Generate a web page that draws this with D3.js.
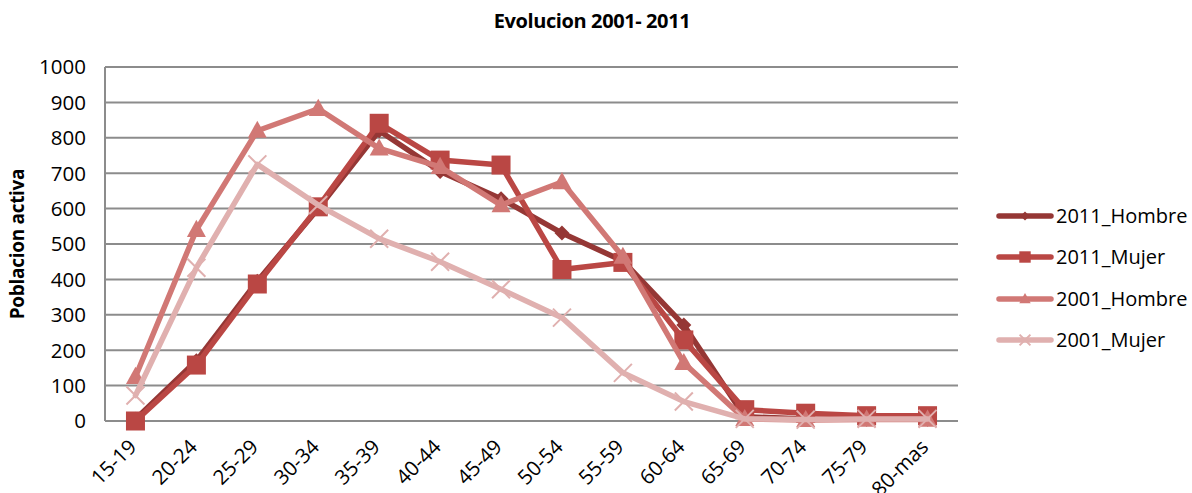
<!DOCTYPE html>
<html>
<head>
<meta charset="utf-8">
<script src="https://cdn.jsdelivr.net/npm/d3@7/dist/d3.min.js"></script>
<style>
  html, body { margin: 0; padding: 0; background: #fff; }
  svg { display: block; font-family: "Open Sans", Lato, sans-serif; }
</style>
</head>
<body>
<svg id="chart" width="1192" height="493"></svg>
<script>
const categories = ["15-19","20-24","25-29","30-34","35-39","40-44","45-49","50-54","55-59","60-64","65-69","70-74","75-79","80-mas"];
const hombre2011 = [5, 170, 395, 600, 820, 705, 628, 531, 452, 271, 12, 6, 5, 5];
const mujer2011  = [0, 158, 387, 605, 841, 737, 723, 428, 448, 229, 32, 22, 15, 15];
const hombre2001 = [125, 540, 820, 882, 770, 718, 610, 675, 464, 164, 6, 3, 4, 4];
const mujer2001  = [72, 433, 725, 610, 515, 450, 372, 292, 136, 55, 6, 4, 6, 6];
const yTicks = [0,100,200,300,400,500,600,700,800,900,1000];
const seriesNames = ["2011_Hombre","2011_Mujer","2001_Hombre","2001_Mujer"];

const series = [
  {name: seriesNames[0], values: hombre2011, color: "#953735", marker: "diamond"},
  {name: seriesNames[1], values: mujer2011,  color: "#BA4744", marker: "square"},
  {name: seriesNames[2], values: hombre2001, color: "#D17875", marker: "triangle"},
  {name: seriesNames[3], values: mujer2001,  color: "#E0B0AF", marker: "x"}
];

const svg = d3.select("#chart");
const pLeft = 105, pRight = 958, pTop = 67, pBottom = 421;

const x = d3.scaleBand().domain(categories).range([pLeft, pRight]);
const y = d3.scaleLinear().domain([0, 1000]).range([pBottom, pTop]);

// gridlines
svg.append("g").selectAll("line").data(yTicks.filter(d => d > 0)).join("line")
  .attr("x1", pLeft).attr("x2", pRight)
  .attr("y1", d => y(d)).attr("y2", d => y(d))
  .attr("stroke", "#8c8c8c").attr("stroke-width", 2);

// axes lines
svg.append("line").attr("x1", pLeft).attr("x2", pLeft).attr("y1", pTop).attr("y2", pBottom)
  .attr("stroke", "#8c8c8c").attr("stroke-width", 2);
svg.append("line").attr("x1", pLeft).attr("x2", pRight).attr("y1", pBottom).attr("y2", pBottom)
  .attr("stroke", "#8c8c8c").attr("stroke-width", 2);

// y tick labels
svg.append("g").selectAll("text").data(yTicks).join("text")
  .attr("x", 86).attr("y", d => y(d)).attr("dy", "0.36em")
  .attr("text-anchor", "end").attr("font-size", 20.5).attr("fill", "#000")
  .text(d => d);

// x tick labels
svg.append("g").selectAll("text").data(categories).join("text")
  .attr("text-anchor", "end").attr("font-size", 20.5).attr("fill", "#000")
  .attr("transform", d => `translate(${x(d) + x.bandwidth()/2 - 3},${pBottom + 22}) rotate(-45)`)
  .attr("dy", "0.36em")
  .text(d => d);

// title
svg.append("text").attr("x", 592).attr("y", 28).attr("text-anchor", "middle")
  .attr("font-size", 20).attr("font-weight", "bold").attr("fill", "#000")
  .attr("letter-spacing", -0.4)
  .text("Evolucion 2001- 2011");

// y axis title
svg.append("text").attr("transform", `translate(24,${(pTop + pBottom)/2}) rotate(-90)`)
  .attr("text-anchor", "middle").attr("font-size", 19).attr("font-weight", "bold")
  .attr("letter-spacing", -0.3)
  .attr("fill", "#000").text("Poblacion activa");

function drawMarker(g, type, cx, cy, color, s) {
  if (type === "diamond") {
    const r = s * 0.75;
    g.append("path").attr("d", `M${cx},${cy-r}L${cx+r},${cy}L${cx},${cy+r}L${cx-r},${cy}Z`).attr("fill", color);
  } else if (type === "square") {
    const r = s * 0.95;
    g.append("rect").attr("x", cx - r).attr("y", cy - r).attr("width", 2*r).attr("height", 2*r).attr("fill", color);
  } else if (type === "triangle") {
    const r = s * 0.95;
    g.append("path").attr("d", `M${cx},${cy-r*1.05}L${cx+r},${cy+r*0.75}L${cx-r},${cy+r*0.75}Z`).attr("fill", color);
  } else if (type === "x") {
    const r = s * 0.9;
    g.append("path").attr("d", `M${cx-r},${cy-r}L${cx+r},${cy+r}M${cx+r},${cy-r}L${cx-r},${cy+r}`)
      .attr("stroke", color).attr("stroke-width", 2).attr("fill", "none");
  }
}

const line = d3.line().x((d, i) => x(categories[i]) + x.bandwidth()/2).y(d => y(d));

series.forEach(s => {
  const g = svg.append("g");
  g.append("path").datum(s.values).attr("d", line)
    .attr("fill", "none").attr("stroke", s.color).attr("stroke-width", 5.5)
    .attr("stroke-linejoin", "round").attr("stroke-linecap", "round");
  s.values.forEach((v, i) => {
    drawMarker(g, s.marker, x(categories[i]) + x.bandwidth()/2, y(v), s.color, 10);
  });
});

// legend
const legendY = [216, 257, 299, 340];
series.forEach((s, i) => {
  const g = svg.append("g");
  const ly = legendY[i];
  g.append("line").attr("x1", 999).attr("x2", 1051).attr("y1", ly).attr("y2", ly)
    .attr("stroke", s.color).attr("stroke-width", 5.5).attr("stroke-linecap", "round");
  drawMarker(g, s.marker, 1025, ly, s.color, 6);
  g.append("text").attr("x", 1056).attr("y", ly).attr("dy", "0.36em")
    .attr("font-size", 20).attr("fill", "#000").text(s.name);
});
</script>
</body>
</html>
